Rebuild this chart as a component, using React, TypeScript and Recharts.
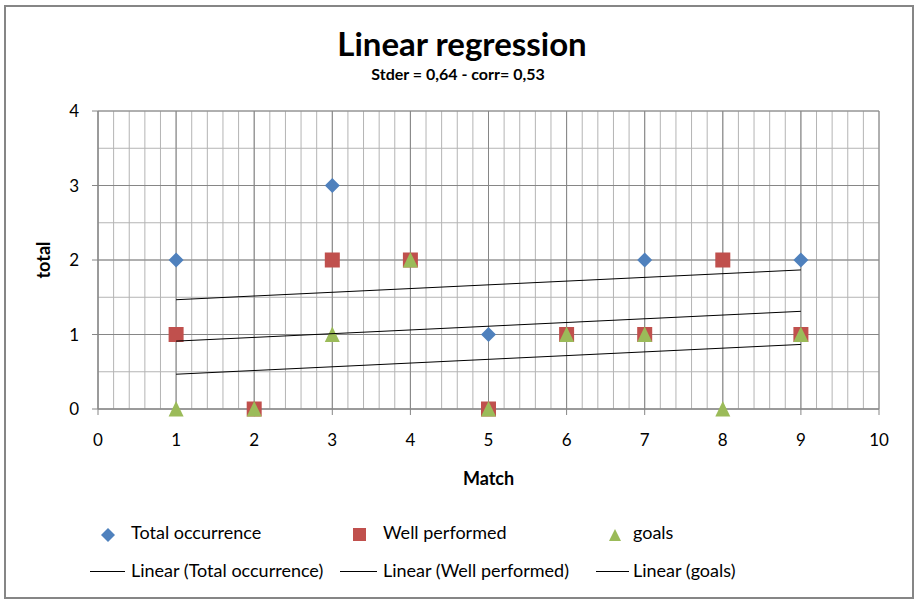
import React from 'react';
import { ScatterChart, Scatter, XAxis, YAxis, CartesianGrid } from 'recharts';

const matches = [1, 2, 3, 4, 5, 6, 7, 8, 9];
const totalOccurrence = [2, 0, 3, 2, 1, 1, 2, 2, 2];
const wellPerformed = [1, 0, 2, 2, 0, 1, 1, 2, 1];
const goals = [0, 0, 1, 2, 0, 1, 1, 0, 1];

const seriesNames = ['Total occurrence', 'Well performed', 'goals'];
const seriesColors = ['#4F81BD', '#C0504D', '#9BBB59'];
const xTicks = [0, 1, 2, 3, 4, 5, 6, 7, 8, 9, 10];
const yTicks = [0, 1, 2, 3, 4];

const FONT = 'Lato, "Open Sans", sans-serif';
const W = 915;
const H = 602;

// minor grid: every 0.2 on x, every 0.5 on y
const xMinor = Array.from({ length: 51 }, (_, i) => Math.round(i * 2) / 10);
const yMinor = Array.from({ length: 9 }, (_, i) => i * 0.5);

const toPoints = (ys: number[]) => matches.map((x, i) => ({ x, y: ys[i] }));

// least-squares trend line, drawn between first and last match
const trend = (ys: number[]) => {
  const n = matches.length;
  const mx = matches.reduce((a, b) => a + b, 0) / n;
  const my = ys.reduce((a, b) => a + b, 0) / n;
  let sxy = 0;
  let sxx = 0;
  matches.forEach((x, i) => {
    sxy += (x - mx) * (ys[i] - my);
    sxx += (x - mx) * (x - mx);
  });
  const slope = sxy / sxx;
  const x0 = matches[0];
  const x1 = matches[n - 1];
  return [
    { x: x0, y: my + slope * (x0 - mx) },
    { x: x1, y: my + slope * (x1 - mx) },
  ];
};

const Diamond = (p: any) => {
  const { cx, cy } = p;
  const r = 7.5;
  return <polygon points={`${cx},${cy - r} ${cx + r},${cy} ${cx},${cy + r} ${cx - r},${cy}`} fill={seriesColors[0]} />;
};
const Square = (p: any) => {
  const { cx, cy } = p;
  return <rect x={cx - 7.5} y={cy - 7.5} width={15} height={15} fill={seriesColors[1]} />;
};
const Triangle = (p: any) => {
  const { cx, cy } = p;
  return <polygon points={`${cx},${cy - 8} ${cx + 7.5},${cy + 7.5} ${cx - 7.5},${cy + 7.5}`} fill={seriesColors[2]} />;
};
const NoShape = () => <g />;

const legendMarker = (i: number) => {
  if (i === 0) return <svg width={14} height={14}><polygon points="7,0 14,7 7,14 0,7" fill={seriesColors[0]} /></svg>;
  if (i === 1) return <svg width={14} height={14}><rect x={0} y={0} width={13} height={13} fill={seriesColors[1]} /></svg>;
  return <svg width={14} height={14}><polygon points="7,1 13,13 1,13" fill={seriesColors[2]} /></svg>;
};

const markerX = [108, 360, 615];
const lineX = [[90, 125], [340, 377], [596, 629]];
const textX = [131, 383, 633];

export default function App() {
  const tickStyle = { fontFamily: FONT, fontSize: 17, fill: '#000' };
  return (
    <div style={{ position: 'absolute', left: 0, top: 0, width: W, height: H, background: '#fff', fontFamily: FONT }}>
      <div style={{ position: 'absolute', left: 4, top: 5, width: 910, height: 594, border: '2px solid #868686', boxSizing: 'border-box' }} />
      <div style={{ position: 'absolute', left: 0, top: 22, width: 924, textAlign: 'center', fontSize: 33, fontWeight: 700, lineHeight: '42px' }}>
        Linear regression
      </div>
      <div style={{ position: 'absolute', left: 0, top: 63, width: 916, textAlign: 'center', fontSize: 16, fontWeight: 700, lineHeight: '22px' }}>
        Stder = 0,64 - corr= 0,53
      </div>
      <div style={{ position: 'absolute', left: 0, top: 0 }}>
        <ScatterChart width={W} height={H} margin={{ top: 111, right: 36, bottom: 113, left: 38 }}>
          <CartesianGrid stroke="#b4b4b4" strokeWidth={1} verticalValues={xMinor} horizontalValues={yMinor} />
          <CartesianGrid stroke="#868686" strokeWidth={1} verticalValues={xTicks} horizontalValues={yTicks} />
          <XAxis
            type="number"
            dataKey="x"
            domain={[0, 10]}
            ticks={xTicks}
            interval={0}
            height={80}
            tick={tickStyle}
            tickMargin={19}
            tickSize={6}
            stroke="#868686"
            label={{ value: 'Match', position: 'insideBottom', offset: 4, style: { fontFamily: FONT, fontSize: 18, fontWeight: 700, fill: '#000' } }}
          />
          <YAxis
            type="number"
            dataKey="y"
            domain={[0, 4]}
            ticks={yTicks}
            interval={0}
            width={60}
            tick={tickStyle}
            tickMargin={13}
            tickSize={6}
            stroke="#868686"
            label={{ value: 'total', angle: -90, position: 'insideLeft', offset: 6, style: { textAnchor: 'middle', fontFamily: FONT, fontSize: 18, fontWeight: 700, fill: '#000' } }}
          />
          <Scatter name={seriesNames[0]} data={toPoints(totalOccurrence)} shape={Diamond} isAnimationActive={false} />
          <Scatter name={seriesNames[1]} data={toPoints(wellPerformed)} shape={Square} isAnimationActive={false} />
          <Scatter name={seriesNames[2]} data={toPoints(goals)} shape={Triangle} isAnimationActive={false} />
          <Scatter data={trend(totalOccurrence)} line={{ stroke: '#000', strokeWidth: 1 }} shape={NoShape} legendType="none" isAnimationActive={false} />
          <Scatter data={trend(wellPerformed)} line={{ stroke: '#000', strokeWidth: 1 }} shape={NoShape} legendType="none" isAnimationActive={false} />
          <Scatter data={trend(goals)} line={{ stroke: '#000', strokeWidth: 1 }} shape={NoShape} legendType="none" isAnimationActive={false} />
        </ScatterChart>
      </div>
      {seriesNames.map((name, i) => (
        <React.Fragment key={name}>
          <div style={{ position: 'absolute', left: markerX[i] - 7, top: 526, width: 14, height: 14 }}>{legendMarker(i)}</div>
          <div style={{ position: 'absolute', left: textX[i], top: 520, fontSize: 18, lineHeight: '24px', whiteSpace: 'nowrap' }}>{name}</div>
          <div style={{ position: 'absolute', left: lineX[i][0], top: 571, width: lineX[i][1] - lineX[i][0], height: 1, background: '#000' }} />
          <div style={{ position: 'absolute', left: textX[i], top: 558, fontSize: 18, lineHeight: '24px', whiteSpace: 'nowrap' }}>{`Linear (${name})`}</div>
        </React.Fragment>
      ))}
    </div>
  );
}
